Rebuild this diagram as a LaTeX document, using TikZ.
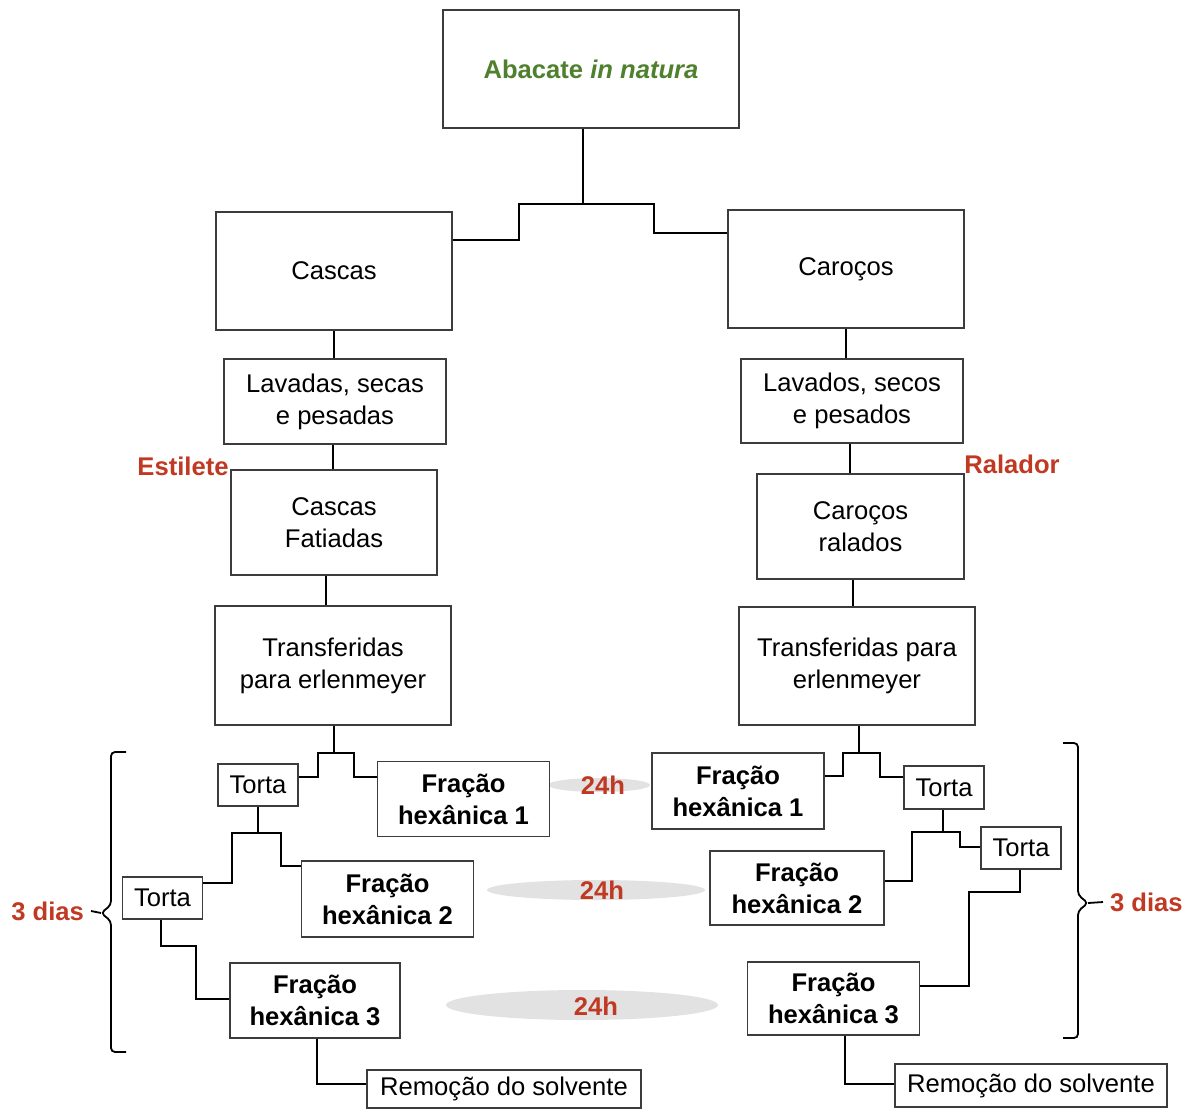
\documentclass[tikz,border=0pt]{standalone}
\usepackage{fontspec}
\setmainfont{Liberation Sans}
\usepackage{tikz}
\definecolor{leafgreen}{RGB}{78,128,46}
\definecolor{rustred}{RGB}{192,57,35}
\definecolor{boxgray}{RGB}{60,60,60}
\definecolor{halo}{RGB}{226,226,226}

\begin{document}
\begin{tikzpicture}[x=0.5pt,y=-0.5pt,
    box/.style={draw=boxgray, line width=0.7pt, fill=white, inner sep=0pt,
      align=center, font=\fontsize{12.8}{16}\selectfont},
    frac/.style={box, minimum width=86pt, minimum height=37.5pt,
      font=\fontsize{12.8}{16}\selectfont\bfseries},
    torta/.style={box, minimum width=40pt, minimum height=21pt},
    link/.style={line width=1.1pt},
    tag/.style={text=rustred, font=\fontsize{12.8}{16}\selectfont\bfseries},
    brk/.style={line width=0.9pt, rounded corners=2pt}]
\useasboundingbox (0,0) rectangle (1193,1109);

\fill[halo] (599,785) ellipse [x radius=25.5pt, y radius=3.5pt];
\fill[halo] (596,890) ellipse [x radius=54.5pt, y radius=5pt];
\fill[halo] (582,1005) ellipse [x radius=68pt, y radius=7.5pt];

\node[box, minimum width=148pt, minimum height=59pt, text=leafgreen,
  font=\fontsize{12.8}{16}\selectfont\bfseries] (abacate) at (591,69) {Abacate \textit{in natura}};
\node[box, minimum width=118pt, minimum height=59pt] (cascas) at (334,271) {Cascas};
\node[box, minimum width=118pt, minimum height=59pt] (carocos) at (846,269) {Caroços};
\node[box, minimum width=111pt, minimum height=42.5pt] (lavadas) at (335,401.5) {Lavadas, secas\\e pesadas};
\node[box, minimum width=111pt, minimum height=42pt] (lavados) at (852,401) {Lavados, secos\\e pesados};
\node[box, minimum width=103pt, minimum height=52.5pt] (fatiadas) at (334,522.5) {Cascas\\Fatiadas};
\node[box, minimum width=103.5pt, minimum height=52.5pt] (ralados) at (860.5,526.5) {Caroços\\ralados};
\node[box, minimum width=118pt, minimum height=59.5pt] (transL) at (333,665.5) {Transferidas\\para erlenmeyer};
\node[box, minimum width=118pt, minimum height=59pt] (transR) at (857,666) {Transferidas para\\erlenmeyer};

\node[torta] (tortaL1) at (258,785) {Torta};
\node[frac] (fracL1) at (463.5,799) {Fração\\hexânica 1};
\node[torta] (tortaL2) at (162.5,898) {Torta};
\node[frac, minimum height=38pt] (fracL2) at (387.5,899) {Fração\\hexânica 2};
\node[frac, minimum width=85pt] (fracL3) at (315,1000.5) {Fração\\hexânica 3};
\node[box, minimum width=137pt, minimum height=19pt] (remL) at (504,1089) {Remoção do solvente};

\node[frac, minimum height=38pt] (fracR1) at (738,791) {Fração\\hexânica 1};
\node[torta, minimum height=21.5pt] (tortaR1) at (944,787.5) {Torta};
\node[frac, minimum width=87pt, minimum height=37pt] (fracR2) at (797,888) {Fração\\hexânica 2};
\node[torta] (tortaR2) at (1021,848) {Torta};
\node[frac, minimum height=36.5pt] (fracR3) at (833.5,998.5) {Fração\\hexânica 3};
\node[box, minimum width=136pt, minimum height=21.5pt] (remR) at (1031,1085.5) {Remoção do solvente};

\node[tag] (estilete) at (183,466) {Estilete};
\node[tag] (ralador) at (1012,464) {Ralador};
\node[tag] (dia1) at (603,785) {24h};
\node[tag] (dia2) at (602,890) {24h};
\node[tag] (dia3) at (596,1006) {24h};
\node[tag, anchor=east] (diasL) at (91,911) {3 dias};
\node[tag, anchor=west] (diasR) at (1103,902) {3 dias};

\draw[link] (abacate.south -| 583,0) -- (583,204) coordinate (fork) -| (519,240) -- (cascas.east |- 0,240);
\draw[link] (fork) -| (654,233) -- (carocos.west |- 0,233);

\draw[link] (cascas.south) -- (lavadas.north -| cascas.south);
\draw[link] (lavadas.south -| 333,0) -- (fatiadas.north -| 333,0);
\draw[link] (fatiadas.south -| 326,0) -- (transL.north -| 326,0);
\draw[link] (carocos.south) -- (lavados.north -| carocos.south);
\draw[link] (lavados.south -| 850,0) -- (ralados.north -| 850,0);
\draw[link] (ralados.south -| 853,0) -- (transR.north -| 853,0);

\draw[link] (transL.south -| 334,0) -- (334,753) coordinate (forkL1) -| (318,777) -- (tortaL1.east |- 0,777);
\draw[link] (forkL1) -| (354,777) -- (fracL1.west |- 0,777);
\draw[link] (tortaL1.south) -- (tortaL1.south |- 0,833) coordinate (forkL2) -| (232,883) -- (tortaL2.east |- 0,883);
\draw[link] (forkL2) -| (281,866) -- (fracL2.west |- 0,866);
\draw[link] (tortaL2.south -| 161,0) |- (196,946) |- (fracL3.west |- 0,999);
\draw[link] (fracL3.south -| 317,0) |- (remL.west |- 0,1084);

\draw[link] (transR.south -| 859,0) -- (859,753) coordinate (forkR1) -| (843,776) -- (fracR1.east |- 0,776);
\draw[link] (forkR1) -| (880,777) -- (tortaR1.west |- 0,777);
\draw[link] (tortaR1.south -| 943,0) -- (943,832) coordinate (forkR2) -| (912,881) -- (fracR2.east |- 0,881);
\draw[link] (forkR2) -| (960,847) -- (tortaR2.west |- 0,847);
\draw[link] (tortaR2.south -| 1020,0) |- (969,892) |- (fracR3.east |- 0,986);
\draw[link] (fracR3.south -| 845,0) |- (remR.west |- 0,1084);

\draw[brk] (126,752) -- (111,752) -- (111,905) -- (101,913) coordinate (tipL) -- (111,921) -- (111,1052) -- (126,1052);
\draw[brk] (tipL) -- (diasL.east);
\draw[brk] (1063,743) -- (1078,743) -- (1078,895) -- (1088,903) coordinate (tipR) -- (1078,911) -- (1078,1038) -- (1063,1038);
\draw[brk] (tipR) -- (diasR.west);
\end{tikzpicture}
\end{document}
